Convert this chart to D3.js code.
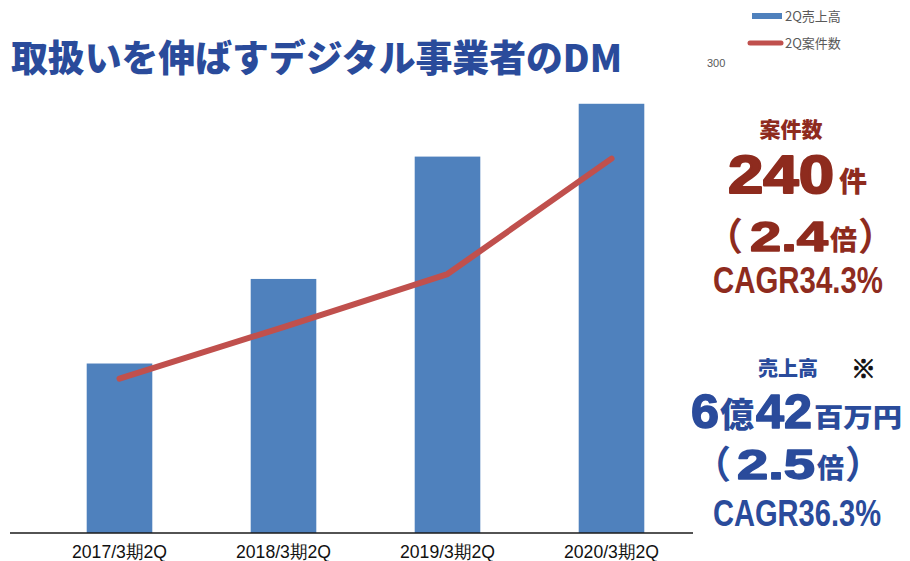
<!DOCTYPE html>
<html lang="ja">
<head>
<meta charset="utf-8">
<script src="https://cdn.jsdelivr.net/npm/d3@7"></script>
<style>
  html, body { margin: 0; padding: 0; background: #fff; }
  svg { display: block; }
  .jp { font-family: "Noto Sans CJK JP", "Noto Sans", sans-serif; }
  .lat { font-family: "Liberation Sans", Arial, sans-serif; }
</style>
</head>
<body>
<svg id="chart" width="910" height="561"></svg>
<script>
// 期別データ（2Q累計）
const categories = ["2017/3期2Q", "2018/3期2Q", "2019/3期2Q", "2020/3期2Q"];
const sales = [253.5, 380, 563, 642];      // 売上高（百万円）
const cases = [99, 132, 166, 240];         // 案件数（件）
const salesDomain = [0, 700];
const casesDomain = [0, 300];
const casesTicks = [300];
const seriesNames = ["2Q売上高", "2Q案件数"];
const titleText = "取扱いを伸ばすデジタル事業者のDM";

const BLUE_BAR = "#4F81BD";
const RED_LINE = "#C0504D";
const TITLE_BLUE = "#2A4B9B";
const DARK_RED = "#8E2B1E";

const svg = d3.select("#chart");
svg.append("rect").attr("width", 910).attr("height", 561).attr("fill", "#fff");

const baseY = 533, topY = 65;

const x = d3.scaleBand()
  .domain(categories)
  .range([37.5, 693.5])
  .paddingInner(0.6)
  .paddingOuter(0.3);

const yL = d3.scaleLinear().domain(salesDomain).range([baseY, topY]);
const yR = d3.scaleLinear().domain(casesDomain).range([baseY, topY]);

// 売上高の棒
svg.append("g").selectAll("rect")
  .data(sales)
  .join("rect")
  .attr("x", (d, i) => x(categories[i]))
  .attr("y", d => yL(d))
  .attr("width", x.bandwidth())
  .attr("height", d => baseY - yL(d))
  .attr("fill", BLUE_BAR);

// 案件数の折れ線
const line = d3.line()
  .x((d, i) => x(categories[i]) + x.bandwidth() / 2)
  .y(d => yR(d));

svg.append("path")
  .datum(cases)
  .attr("d", line)
  .attr("fill", "none")
  .attr("stroke", RED_LINE)
  .attr("stroke-width", 6)
  .attr("stroke-linejoin", "round")
  .attr("stroke-linecap", "round");

// 横軸
svg.append("line")
  .attr("x1", 10).attr("x2", 693)
  .attr("y1", baseY).attr("y2", baseY)
  .attr("stroke", "#1a1a1a").attr("stroke-width", 1.5);

const xAxis = svg.append("g")
  .attr("transform", `translate(0,${baseY})`)
  .call(d3.axisBottom(x).tickSize(0).tickPadding(0));
xAxis.select(".domain").remove();
xAxis.selectAll("text")
  .attr("class", "lat")
  .attr("y", 25)
  .attr("dy", 0)
  .attr("font-size", 18)
  .attr("fill", "#111")
  .attr("textLength", 95)
  .attr("lengthAdjust", "spacingAndGlyphs")
  .attr("x", -47.5)
  .attr("text-anchor", "start");

// 第2軸（目盛ラベルのみ）
const yAxisR = svg.append("g")
  .attr("transform", "translate(705,-2)")
  .call(d3.axisRight(yR).tickValues(casesTicks).tickSize(0).tickPadding(2));
yAxisR.select(".domain").remove();
yAxisR.selectAll("text")
  .attr("class", "lat")
  .attr("font-size", 11)
  .attr("fill", "#595959");

// 凡例
const legend = svg.append("g");
legend.append("rect")
  .attr("x", 752).attr("y", 13).attr("width", 30).attr("height", 6)
  .attr("fill", BLUE_BAR);
legend.append("line")
  .attr("x1", 750).attr("x2", 781).attr("y1", 43).attr("y2", 43)
  .attr("stroke", RED_LINE).attr("stroke-width", 5).attr("stroke-linecap", "round");
legend.selectAll("text")
  .data(seriesNames)
  .join("text")
  .attr("class", "jp")
  .attr("x", 785)
  .attr("y", (d, i) => 16 + i * 27)
  .attr("dy", "0.35em")
  .attr("font-size", 13)
  .attr("fill", "#595959")
  .text(d => d);

// タイトル
svg.append("text")
  .attr("class", "jp")
  .attr("x", 11).attr("y", 72)
  .attr("font-size", 37)
  .attr("font-weight", 900)
  .attr("fill", TITLE_BLUE)
  .attr("textLength", 611)
  .attr("lengthAdjust", "spacingAndGlyphs")
  .text(titleText);

// 注記ブロック
const n = cases.length - 1;
const casesRatio = (cases[n] / cases[0]).toFixed(1);
const salesRatio = (sales[n] / sales[0]).toFixed(1);
const cagr = (a, b) => ((Math.pow(b / a, 1 / n) - 1) * 100).toFixed(1);
const casesCagr = "CAGR" + cagr(cases[0], cases[n]) + "%";
const salesCagr = "CAGR" + cagr(sales[0], sales[n]) + "%";
const oku = Math.floor(sales[n] / 100);
const man = String(Math.round(sales[n] - oku * 100));

function put(t, opt) {
  const el = svg.append("text")
    .attr("class", opt.cls || "jp")
    .attr("x", opt.x).attr("y", opt.y)
    .attr("font-size", opt.size)
    .attr("font-weight", opt.weight || 900)
    .attr("fill", opt.color)
    .attr("text-anchor", opt.anchor || "start")
    .text(t);
  if (opt.len) el.attr("textLength", opt.len).attr("lengthAdjust", "spacingAndGlyphs");
  if (opt.stroke) el.attr("stroke", opt.color).attr("stroke-width", opt.stroke).attr("stroke-linejoin", "round");
  return el;
}

// 横幅を詰めた文字（変形で幅を合わせる）
function putNarrow(t, opt) {
  const el = svg.append("text")
    .attr("class", opt.cls || "lat")
    .attr("x", 0).attr("y", 0)
    .attr("font-size", opt.size)
    .attr("font-weight", opt.weight || 700)
    .attr("fill", opt.color)
    .text(t);
  const w = el.node().getComputedTextLength();
  el.attr("transform", `translate(${opt.x},${opt.y}) scale(${opt.width / w},1)`);
  return el;
}

// 案件数
put("案件数", { x: 791, y: 137, size: 21, color: DARK_RED, anchor: "middle" });
put(String(cases[n]), { cls: "lat", x: 728, y: 193, size: 54, color: DARK_RED, len: 106, stroke: 2 });
put("件", { x: 839, y: 192, size: 28, color: DARK_RED });
put("（", { x: 743, y: 250, size: 38, color: DARK_RED, anchor: "end", weight: 700 });
put(casesRatio, { cls: "lat", x: 750, y: 251, size: 42, color: DARK_RED, len: 78, stroke: 1.5 });
put("倍", { x: 830, y: 250, size: 27, color: DARK_RED });
put("）", { x: 858, y: 250, size: 38, color: DARK_RED, weight: 700 });
putNarrow(casesCagr, { x: 713, y: 293, size: 37, color: DARK_RED, width: 170 });

// 売上高
put("売上高", { x: 758, y: 376, size: 20, color: TITLE_BLUE });
put("※", { x: 851, y: 378, size: 25, color: "#111", stroke: 0.8 });
put(String(oku), { cls: "lat", x: 691, y: 428, size: 48, color: TITLE_BLUE, len: 28, stroke: 1.5 });
put("億", { x: 720, y: 427, size: 34, color: TITLE_BLUE });
put(man, { cls: "lat", x: 756, y: 428, size: 48, color: TITLE_BLUE, len: 56, stroke: 1.5 });
put("百万円", { x: 814, y: 427, size: 26, color: TITLE_BLUE, len: 88 });
put("（", { x: 731, y: 478, size: 38, color: TITLE_BLUE, anchor: "end", weight: 700 });
put(salesRatio, { cls: "lat", x: 737, y: 479, size: 42, color: TITLE_BLUE, len: 78, stroke: 1.5 });
put("倍", { x: 817, y: 478, size: 27, color: TITLE_BLUE });
put("）", { x: 845, y: 478, size: 38, color: TITLE_BLUE, weight: 700 });
putNarrow(salesCagr, { x: 713, y: 526, size: 37, color: TITLE_BLUE, width: 168 });
</script>
</body>
</html>
